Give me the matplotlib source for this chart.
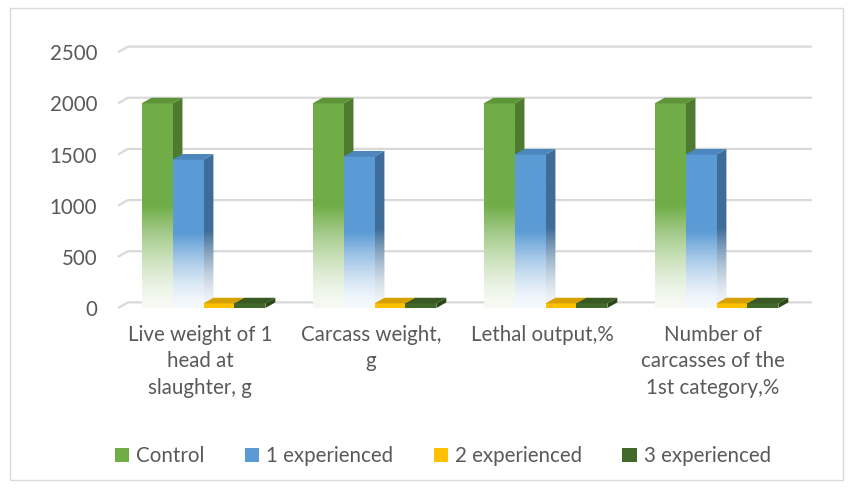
import numpy as np
import matplotlib.pyplot as plt
from matplotlib.patches import Polygon, Rectangle, Patch
from matplotlib.colors import to_rgb

categories = ['Live weight of 1\nhead at\nslaughter, g', 'Carcass weight,\ng',
              'Lethal output,%', 'Number of\ncarcasses of the\n1st category,%']
series = ['Control', '1 experienced', '2 experienced', '3 experienced']
control = [2000, 2000, 2000, 2000]
exp1 = [1450, 1480, 1500, 1500]
exp2 = [45, 45, 45, 45]
exp3 = [45, 45, 45, 45]
yticks = [0, 500, 1000, 1500, 2000, 2500]

# front, top, side colours for each series
front_cols = ['#70AD47', '#5B9BD5', '#FFC000', '#43682B']
top_cols = ['#5E9438', '#4C86BD', '#D6A000', '#385A22']
side_cols = ['#4E7B30', '#3F6D98', '#B88A00', '#2C4719']
fade = [True, True, False, False]

plt.rcParams['font.family'] = ['Lato', 'DejaVu Sans']
txt = '#595959'
fs = 14.8

fig = plt.figure(figsize=(8.51, 4.88), dpi=100)
ax = fig.add_axes([118 / 851, (488 - 308) / 488, 684 / 851, 266 / 488])

w = 0.181   # bar width in category units
dx = 0.058  # depth offset x
dy = 55     # depth offset y


def gradient_img(color, n=64):
    # vertical gradient: solid on top half, fading to pale at the bottom
    c = np.array(to_rgb(color))
    f = np.linspace(0, 1, n)[:, None]
    t = np.clip(f / 0.5, 0, 1)
    t = 0.06 + 0.94 * t ** 1.5
    rgb = (1 - t) + t * c
    return rgb[:, None, :]


def draw_bar(x0, h, i, z):
    x1 = x0 + w
    # front face
    if fade[i]:
        ax.imshow(gradient_img(front_cols[i]), extent=(x0, x1, 0, h), origin='lower',
                  aspect='auto', interpolation='bilinear', zorder=z)
    else:
        ax.add_patch(Rectangle((x0, 0), w, h, color=front_cols[i], lw=0, zorder=z))
    # side face
    side = Polygon([(x1, 0), (x1, h), (x1 + dx, h + dy), (x1 + dx, dy)], closed=True,
                   lw=0, zorder=z, facecolor=side_cols[i] if not fade[i] else 'none')
    ax.add_patch(side)
    if fade[i]:
        im = ax.imshow(gradient_img(side_cols[i]), extent=(x1, x1 + dx, 0, h + dy),
                       origin='lower', aspect='auto', interpolation='bilinear', zorder=z)
        im.set_clip_path(side)
    # top face
    ax.add_patch(Polygon([(x0, h), (x1, h), (x1 + dx, h + dy), (x0 + dx, h + dy)],
                         closed=True, color=top_cols[i], lw=0, zorder=z))


# gridlines on the back wall
for v in yticks:
    ax.plot([-0.5, -0.5 + dx, 3.5 + dx], [v, v + dy, v + dy], color='#D9D9D9',
            lw=1.6, zorder=1, clip_on=False, solid_capstyle='butt')

data = [control, exp1, exp2, exp3]
z = 2
for c in range(len(categories)):
    for i, vals in enumerate(data):
        x0 = c - 2 * w + i * w
        draw_bar(x0, vals[c], i, z)
        z += 1

ax.set_xlim(-0.5, 3.5)
ax.set_ylim(0, 2600)
ax.set_yticks(yticks)
ax.set_yticklabels([str(v) for v in yticks], fontsize=fs, color=txt)
ax.tick_params(axis='y', length=0, pad=15)
ax.set_xticks([])
for s in ax.spines.values():
    s.set_visible(False)

for c, lab in enumerate(categories):
    ax.annotate(lab, xy=(c - 0.02, 0), xycoords=('data', 'axes fraction'),
                xytext=(0, -12), textcoords='offset points', ha='center', va='top',
                fontsize=fs, color=txt, linespacing=1.42)

handles = [Patch(facecolor=front_cols[i], edgecolor='none') for i in range(4)]
fig.legend(handles, series, loc='center', bbox_to_anchor=(443 / 851, 1 - 456 / 488),
           ncol=4, frameon=False, fontsize=fs, labelcolor=txt, handlelength=0.7,
           handleheight=0.7, handletextpad=0.35, columnspacing=1.95)

fig.patches.append(Rectangle((10 / 851, 8 / 488), 833 / 851, 472 / 488, fill=False,
                             edgecolor='#D9D9D9', lw=1, transform=fig.transFigure))

fig.savefig('out.png', dpi=100)
